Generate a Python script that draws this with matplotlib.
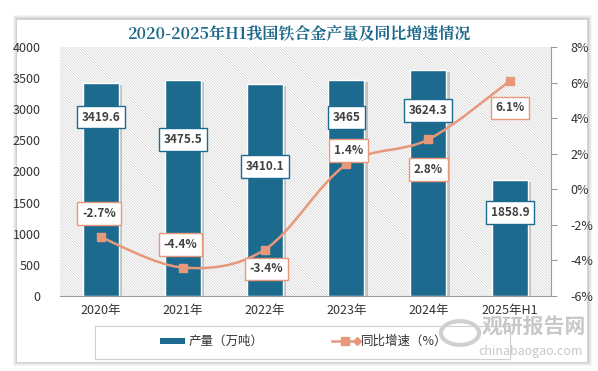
import matplotlib
matplotlib.use("Agg")
import matplotlib.pyplot as plt
from matplotlib.patches import Rectangle, PathPatch
from matplotlib.path import Path
import numpy as np

plt.rcParams['font.family'] = ['Noto Sans CJK SC', 'DejaVu Sans']
plt.rcParams['hatch.linewidth'] = 0.5
plt.rcParams['hatch.color'] = '#d0d0d0'

categories = ["2020年", "2021年", "2022年", "2023年", "2024年", "2025年H1"]
output = [3419.6, 3475.5, 3410.1, 3465, 3624.3, 1858.9]
growth = [-2.7, -4.4, -3.4, 1.4, 2.8, 6.1]
bar_label_text = ["3419.6", "3475.5", "3410.1", "3465", "3624.3", "1858.9"]
line_label_text = ["-2.7%", "-4.4%", "-3.4%", "1.4%", "2.8%", "6.1%"]
left_ticks = [0, 500, 1000, 1500, 2000, 2500, 3000, 3500, 4000]
right_ticks = [-6, -4, -2, 0, 2, 4, 6, 8]

# style: label offsets in pixels (from the mark)
bar_label_dy = [-34, -60, -83, -37, -40, -32]
line_label_dy = [24, 23, -19, 14, -30, -27]
line_label_dx = [-2, -2, 2, 2, 0, 0]

BAR = "#1d6a8f"
LINE = "#e8987a"

fig = plt.figure(figsize=(5.98, 3.71), dpi=100)
fig.patch.set_facecolor("white")
W, H = 598, 371

# card shadow and card
for i, a in enumerate([0.04, 0.04, 0.05, 0.06]):
    pad = 4 - i
    fig.patches.append(Rectangle(((17 - pad) / W, 1 - (362 + pad) / H), (571 + 2 * pad) / W,
                                 (343 + 2 * pad) / H, transform=fig.transFigure,
                                 facecolor="#000000", alpha=a, edgecolor="none", zorder=0))
fig.patches.append(Rectangle((17 / W, 1 - 362 / H), 570 / W, 342 / H, transform=fig.transFigure,
                             facecolor="white", edgecolor="none", zorder=0.5))

ax = fig.add_axes([60 / W, 1 - 296 / H, 491 / W, 249 / H])
ax.set_zorder(2)
ax.patch.set_visible(False)
ax2 = ax.twinx()
ax2.set_zorder(3)
ax2.patch.set_visible(False)

# hatched background
bg = Rectangle((0, 0), 1, 1, transform=ax.transAxes, facecolor="white",
               edgecolor="#d0d0d0", hatch="\\" * 12, linewidth=0.0, zorder=0)
ax.add_patch(bg)

x = np.arange(len(categories))
# bar shadows
ax.bar(x + 0.03, output, width=0.46, color="#000000", alpha=0.18, zorder=1, bottom=-30)
ax.bar(x, output, width=0.44, color=BAR, edgecolor="white", linewidth=1.0, zorder=2,
       label="产量（万吨）")

ax.set_xlim(-0.5, len(categories) - 0.5)
ax.set_ylim(0, 4000)
ax.set_yticks(left_ticks)
ax.set_xticks(x)
ax.set_xticklabels(categories, fontsize=9, color="#333333")
ax.tick_params(axis="y", length=0, labelsize=9, colors="#333333", pad=14)
ax.tick_params(axis="x", length=0, pad=6)
for s in ["top", "left", "right"]:
    ax.spines[s].set_visible(False)
ax.spines["bottom"].set_color("#9a9a9a")

ax2.set_ylim(-6, 8)
ax2.set_yticks(right_ticks)
ax2.set_yticklabels([f"{t}%" for t in right_ticks], fontsize=9, color="#333333")
ax2.tick_params(axis="y", length=4, color="#9a9a9a", direction="out", pad=10)
for s in ["top", "left", "bottom"]:
    ax2.spines[s].set_visible(False)
ax2.spines["right"].set_color("#9a9a9a")

# smooth curve through the growth points (Catmull-Rom -> cubic Bezier)
pts = np.column_stack([x, growth]).astype(float)
verts = [tuple(pts[0])]
codes = [Path.MOVETO]
n = len(pts)
for i in range(n - 1):
    p0 = pts[i - 1] if i > 0 else pts[i]
    p1 = pts[i]
    p2 = pts[i + 1]
    p3 = pts[i + 2] if i + 2 < n else pts[i + 1]
    c1 = p1 + (p2 - p0) / 6.0
    c2 = p2 - (p3 - p1) / 6.0
    verts += [tuple(c1), tuple(c2), tuple(p2)]
    codes += [Path.CURVE4] * 3
ax2.add_patch(PathPatch(Path(verts, codes), facecolor="none", edgecolor=LINE, lw=1.8, zorder=3))
ax2.plot(x, growth, linestyle="none", marker="s", markersize=6, color=LINE, zorder=4)

# bar labels
for xi, v, t, dy in zip(x, output, bar_label_text, bar_label_dy):
    ax.annotate(t, (xi, v), xytext=(0, dy * 0.72), textcoords="offset points",
                ha="center", va="center", fontsize=8.5, fontweight="bold", color="#404040",
                bbox=dict(boxstyle="square,pad=0.4", facecolor="white", edgecolor=BAR, lw=1.0),
                zorder=6, annotation_clip=False)
# line labels
for xi, v, t, dy, dx in zip(x, growth, line_label_text, line_label_dy, line_label_dx):
    ax2.annotate(t, (xi, v), xytext=(dx * 0.72, dy * 0.72), textcoords="offset points",
                 ha="center", va="center", fontsize=8.5, fontweight="bold", color="#404040",
                 bbox=dict(boxstyle="square,pad=0.4", facecolor="white", edgecolor=LINE, lw=1.0),
                 zorder=6, annotation_clip=False)

# title
fig.text(0.5, 1 - 33 / H, "2020-2025年H1我国铁合金产量及同比增速情况", ha="center", va="center",
         fontsize=11.5, fontweight="bold", color="#1f6a8c",
         family=["Noto Serif CJK SC", "Noto Sans CJK SC", "DejaVu Sans"])

# legend box
fig.patches.append(Rectangle((95 / W, 1 - 359 / H), 415 / W, 33 / H, transform=fig.transFigure,
                             facecolor="white", edgecolor="#d0d0d0", lw=0.8, zorder=5))
fig.patches.append(Rectangle((160 / W, 1 - 343.5 / H), 25 / W, 6 / H, transform=fig.transFigure,
                             facecolor=BAR, edgecolor="none", zorder=6))
fig.text(189 / W, 1 - 341 / H, "产量（万吨）", fontsize=9, va="center", color="#333333", zorder=7)
fig.lines.append(plt.Line2D([332 / W, 358 / W], [1 - 341 / H, 1 - 341 / H], transform=fig.transFigure,
                            color=LINE, lw=1.8, zorder=6))
fig.lines.append(plt.Line2D([345 / W], [1 - 341 / H], transform=fig.transFigure, marker="s",
                            markersize=6, color=LINE, zorder=7))
fig.lines.append(plt.Line2D([357 / W], [1 - 341 / H], transform=fig.transFigure, marker="D",
                            markersize=4, color=LINE, zorder=7))
fig.text(361 / W, 1 - 341 / H, "同比增速（%）", fontsize=9, va="center", color="#333333", zorder=7)

# watermark
fig.text(482 / W, 1 - 326 / H, "观研报告网", fontsize=15, fontweight="bold", color="#c8c8c8",
         ha="left", va="center", zorder=8)
fig.text(478 / W, 1 - 351 / H, "chinabaogao.com", fontsize=9, color="#c8c8c8",
         ha="left", va="center", zorder=8)
circ = plt.Circle((460 / W, 1 - 333 / H), 0.032, transform=fig.transFigure, fill=False,
                  edgecolor="#d0d0d0", lw=3, zorder=8)
fig.patches.append(circ)

fig.savefig("out.png", dpi=100)
